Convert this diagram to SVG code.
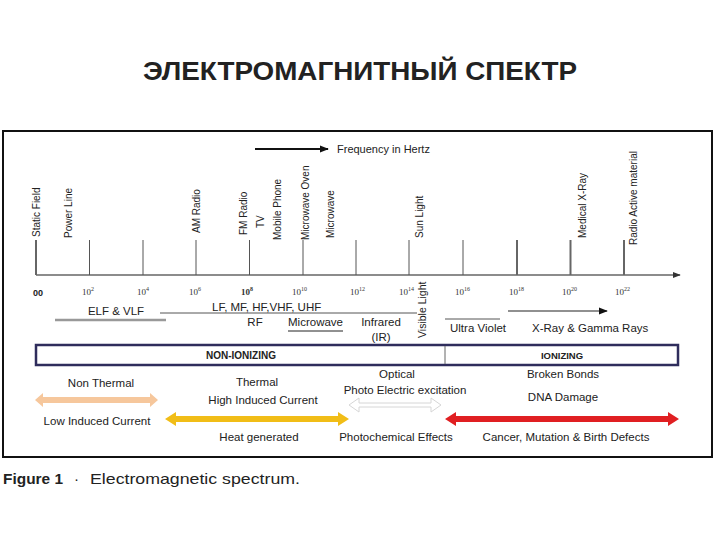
<svg xmlns="http://www.w3.org/2000/svg" width="720" height="540" viewBox="0 0 720 540">
<style>
text{font-family:"Liberation Sans",Arial,sans-serif;fill:#222}
.rot{font-size:10px}
.lbl{font-size:11.5px}
.tk{font-family:"Liberation Serif","Times New Roman",serif;font-size:9px;fill:#333}
.sup{font-size:6px}
.tick{stroke:#555;stroke-width:1}
.tickb{stroke:#666;stroke-width:2}
.c{text-anchor:middle}
</style>
<defs>
<marker id="ah" viewBox="0 0 10 10" refX="9" refY="5" markerWidth="8" markerHeight="8" markerUnits="userSpaceOnUse" orient="auto"><path d="M0,1 L10,5 L0,9 Z" fill="#333"/></marker>
<marker id="ahk" viewBox="0 0 10 10" refX="9" refY="5" markerWidth="9" markerHeight="9" markerUnits="userSpaceOnUse" orient="auto"><path d="M0,1 L10,5 L0,9 Z" fill="#111"/></marker>
</defs>
<rect width="720" height="540" fill="#fff"/>
<text x="360" y="80" class="c" font-size="26" font-weight="bold" fill="#111" textLength="434" lengthAdjust="spacingAndGlyphs">ЭЛЕКТРОМАГНИТНЫЙ СПЕКТР</text>
<rect id="frame" x="3" y="131" width="709" height="326" fill="none" stroke="#111" stroke-width="2"/>

<g id="freq">
<line x1="255" y1="149" x2="328" y2="149" stroke="#111" stroke-width="2" marker-end="url(#ahk)"/>
<text x="337" y="153" font-size="11">Frequency in Hertz</text>
</g>

<g id="connectors">
<line x1="36" y1="275" x2="680" y2="275" stroke="#666" stroke-width="1.5" marker-end="url(#ah)"/>
<line class="tickb" x1="36" y1="240" x2="36" y2="275"/>
<line class="tick" x1="89.5" y1="240" x2="89.5" y2="275"/>
<line class="tick" x1="143" y1="240" x2="143" y2="275"/>
<line class="tick" x1="196" y1="240" x2="196" y2="275"/>
<line class="tick" x1="249.5" y1="240" x2="249.5" y2="275"/>
<line class="tick" x1="303" y1="240" x2="303" y2="275"/>
<line class="tick" x1="356" y1="240" x2="356" y2="275"/>
<line class="tick" x1="409" y1="240" x2="409" y2="275"/>
<line class="tick" x1="463" y1="240" x2="463" y2="275"/>
<line class="tickb" x1="517" y1="240" x2="517" y2="275"/>
<line class="tickb" x1="570.5" y1="240" x2="570.5" y2="275"/>
<line class="tickb" x1="624" y1="240" x2="624" y2="275"/>
<!-- band lines -->
<line x1="55" y1="320" x2="166" y2="320" stroke="#999" stroke-width="2.5"/>
<line x1="160" y1="313" x2="417" y2="313" stroke="#555" stroke-width="1"/>
<line x1="288" y1="331" x2="343" y2="331" stroke="#222" stroke-width="1"/>
<line x1="445" y1="319" x2="500" y2="319" stroke="#555" stroke-width="1"/>
<line x1="508" y1="311" x2="607" y2="311" stroke="#222" stroke-width="1.2" marker-end="url(#ahk)"/>
</g>

<g id="sources">
<text class="rot" transform="translate(39.5,237) rotate(-90)">Static Field</text>
<text class="rot" transform="translate(71.5,238) rotate(-90)">Power Line</text>
<text class="rot" transform="translate(199.5,233) rotate(-90)">AM Radio</text>
<text class="rot" transform="translate(246.5,235) rotate(-90)">FM Radio</text>
<text class="rot" transform="translate(263.5,228) rotate(-90)">TV</text>
<text class="rot" transform="translate(280.5,240) rotate(-90)">Mobile Phone</text>
<text class="rot" transform="translate(308.5,240) rotate(-90)">Microwave Oven</text>
<text class="rot" transform="translate(333.5,238) rotate(-90)">Microwave</text>
<text class="rot" transform="translate(422.5,238) rotate(-90)">Sun Light</text>
<text class="rot" transform="translate(585.5,238) rotate(-90)">Medical X-Ray</text>
<text class="rot" transform="translate(636.5,245) rotate(-90)">Radio Active material</text>
</g>

<g id="ticklabels">
<text x="33" y="296" font-size="9" font-weight="bold" fill="#333">00</text>
<text class="tk" x="82" y="295">10<tspan class="sup" dy="-4">2</tspan></text>
<text class="tk" x="137" y="295">10<tspan class="sup" dy="-4">4</tspan></text>
<text class="tk" x="189" y="295">10<tspan class="sup" dy="-4">6</tspan></text>
<text class="tk" x="241" y="295" font-weight="bold">10<tspan class="sup" dy="-4">8</tspan></text>
<text class="tk" x="292" y="295">10<tspan class="sup" dy="-4">10</tspan></text>
<text class="tk" x="350" y="295">10<tspan class="sup" dy="-4">12</tspan></text>
<text class="tk" x="399" y="295">10<tspan class="sup" dy="-4">14</tspan></text>
<text class="tk" x="455" y="295">10<tspan class="sup" dy="-4">16</tspan></text>
<text class="tk" x="509" y="295">10<tspan class="sup" dy="-4">18</tspan></text>
<text class="tk" x="562" y="295">10<tspan class="sup" dy="-4">20</tspan></text>
<text class="tk" x="615" y="295">10<tspan class="sup" dy="-4">22</tspan></text>
</g>

<g id="bands">
<text class="lbl c" x="116" y="315">ELF &amp; VLF</text>
<text class="lbl" x="212" y="311">LF, MF, HF,VHF, UHF</text>
<text class="lbl c" x="255" y="326">RF</text>
<text class="lbl c" x="315.5" y="326">Microwave</text>
<text class="lbl c" x="381" y="326">Infrared</text>
<text class="lbl c" x="381" y="341">(IR)</text>
<text transform="translate(426,338) rotate(-90)" font-size="10.5">Visible Light</text>
<text class="lbl" x="450" y="332">Ultra Violet</text>
<text class="lbl" x="532" y="332">X-Ray &amp; Gamma Rays</text>
</g>

<g id="ionbar">
<rect x="36" y="345" width="642" height="20" fill="#fff" stroke="#2f2d5c" stroke-width="2.5"/>
<line x1="445" y1="346" x2="445" y2="364" stroke="#666" stroke-width="1"/>
<text x="241" y="359" class="c" font-size="10" font-weight="bold" fill="#2d2a6e">NON-IONIZING</text>
<text x="562" y="359" class="c" font-size="9.5" font-weight="bold" fill="#d9302f">IONIZING</text>
</g>

<g id="nonthermal">
<text class="lbl c" x="101" y="387">Non Thermal</text>
<path d="M35,400 L43,393 L43,397 L150,397 L150,393 L158,400 L150,407 L150,403 L43,403 L43,407 Z" fill="#f6c79c"/>
<text class="lbl c" x="97" y="425">Low Induced Current</text>
</g>

<g id="thermal">
<text class="lbl c" x="257" y="386">Thermal</text>
<text class="lbl c" x="263" y="404">High Induced Current</text>
<path d="M165,419 L176,412 L176,416 L338,416 L338,412 L349,419 L338,426 L338,422 L176,422 L176,426 Z" fill="#f1bd17"/>
<text class="lbl c" x="259" y="441">Heat generated</text>
</g>

<g id="optical">
<text class="lbl c" x="397" y="378">Optical</text>
<text class="lbl c" x="405" y="394">Photo Electric excitation</text>
<path d="M349,405 L359,398 L359,403 L431,403 L431,398 L441,405 L431,412 L431,407 L359,407 L359,412 Z" fill="#fff" stroke="#d6d6d6" stroke-width="1"/>
<text class="lbl c" x="396" y="441">Photochemical Effects</text>
</g>

<g id="ionizing">
<text class="lbl c" x="563" y="378">Broken Bonds</text>
<text class="lbl c" x="563" y="401">DNA Damage</text>
<path d="M445,419 L456,412 L456,416 L668,416 L668,412 L679,419 L668,426 L668,422 L456,422 L456,426 Z" fill="#e01f22"/>
<text class="lbl c" x="566" y="441">Cancer, Mutation &amp; Birth Defects</text>
</g>

<g id="caption">
<text x="3" y="484" font-size="15" font-weight="bold" fill="#1a1a1a" textLength="60" lengthAdjust="spacingAndGlyphs">Figure 1</text>
<text x="74" y="484" font-size="15" fill="#444">·</text>
<text x="90" y="484" font-size="15" fill="#1a1a1a" textLength="210" lengthAdjust="spacingAndGlyphs">Electromagnetic spectrum.</text>
</g>
</svg>
